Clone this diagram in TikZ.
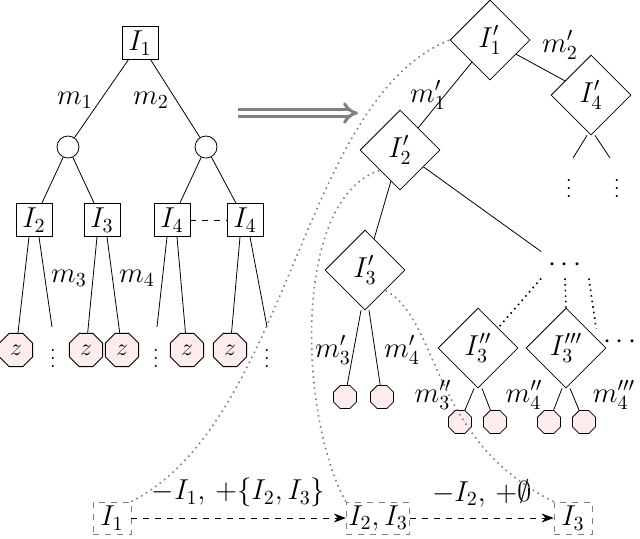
\documentclass[tikz,border=0pt]{standalone}
\usetikzlibrary{shapes.geometric,arrows.meta}
\begin{document}
\begin{tikzpicture}[x=0.5pt,y=-0.5pt,every node/.style={font=\Large},
 box/.style={draw,minimum width=18pt,minimum height=16.5pt,inner sep=1pt},
 dia/.style={draw,diamond,aspect=1,inner sep=0pt,minimum size=40pt},
 ch/.style={draw,circle,minimum size=11pt,inner sep=0pt},
 zn/.style={draw,regular polygon,regular polygon sides=8,fill=red!7,minimum size=18pt,inner sep=0pt,font=\large},
 sn/.style={draw,regular polygon,regular polygon sides=8,fill=red!7,minimum size=12.5pt,inner sep=0pt},
 db/.style={draw=gray,dashed,minimum width=19pt,minimum height=16pt,inner sep=1pt},
 gd/.style={gray,dotted,thick}]
\useasboundingbox (0,0) rectangle (640,538);
% left tree
\node[box] (i1) at (140,43) {$I_1$};
\node[ch] (c1) at (68,147) {};
\node[ch] (c2) at (206,147) {};
\draw (i1) -- (c1);
\draw (i1) -- (c2);
\node at (75,100) {$m_1$}; \node at (151,100) {$m_2$};
\node[box] (i2) at (34,220) {$I_2$};
\node[box] (i3) at (102,220) {$I_3$};
\node[box] (i4) at (172,220) {$I_4$};
\node[box] (i4b) at (245,220) {$I_4$};
\draw (c1)--(i2); \draw (c1)--(i3); \draw (c2)--(i4); \draw (c2)--(i4b);
\draw[dashed] (i4)--(i4b);
\node[zn] (z1) at (16,350) {$z$};
\node[zn] (z2) at (86,350) {$z$};
\node[zn] (z3) at (122,350) {$z$};
\node[zn] (z4) at (187,350) {$z$};
\node[zn] (z5) at (230,350) {$z$};
\coordinate (e1) at (52,327); \coordinate (e2) at (157,327); \coordinate (e3) at (267,327);
\node[font=\normalsize] at (53,352) {$\vdots$}; \node[font=\normalsize] at (156,352) {$\vdots$}; \node[font=\normalsize] at (267,352) {$\vdots$};
\draw (i2.south)+(-5,0) -- (z1); \draw (i2.south)+(5,0) -- (e1);
\draw (i3.south)+(-5,0) -- (z2); \draw (i3.south)+(5,0) -- (z3);
\draw (i4.south)+(-5,0) -- (e2); \draw (i4.south)+(5,0) -- (z4);
\draw (i4b.south)+(-5,0) -- (z5); \draw (i4b.south)+(5,0) -- (e3);
\node at (69,278) {$m_3$}; \node at (137,278) {$m_4$};
% arrow
\coordinate (a1) at (238,113); \coordinate (a2) at (358,113);
\draw[gray,line width=1.5pt,double distance=2pt,-{Implies}] (a1)--(a2);
% right tree
\node[dia] (j1) at (490,40) {$I_1'$};
\node[dia] (j4) at (591,95) {$I_4'$};
\node[dia] (j2) at (400,150) {$I_2'$};
\node[dia] (j3) at (365,270) {$I_3'$};
\node[dia] (j33) at (478,348) {$I_3''$};
\node[dia] (j333) at (566,348) {$I_3'''$};
\draw (j1)--(j2); \draw (j1)--(j4);
\node at (560,45) {$m_2'$}; \node at (428,95) {$m_1'$};
\coordinate (f1) at (573,158); \coordinate (f2) at (610,158);
\draw (j4.south)+(-4,0)--(f1); \draw (j4.south)+(4,0)--(f2);
\node[font=\normalsize] at (569,182) {$\vdots$}; \node[font=\normalsize] at (617,182) {$\vdots$};
\draw (j2)--(j3);
\node (dd) at (565,265) {$\cdots$};
\draw (j2)--(dd.north west);
\draw[dotted,thick] (dd.south west)--(j33.north east);
\draw[dotted,thick] (dd.south)--(j333.north);
\node (dr) at (620,342) {$\cdots$};
\draw[dotted,thick] (dd.south east)--(dr.north west);
\node[sn] (s1) at (345,397) {}; \node[sn] (s2) at (382,397) {};
\draw (j3.south)+(-4,0)--(s1); \draw (j3.south)+(4,0)--(s2);
\node at (333,350) {$m_3'$}; \node at (402,350) {$m_4'$};
\node[sn] (s3) at (460,422) {}; \node[sn] (s4) at (495,422) {};
\node[sn] (s5) at (549,422) {}; \node[sn] (s6) at (584,422) {};
\draw (j33.south)+(-4,0)--(s3); \draw (j33.south)+(4,0)--(s4);
\draw (j333.south)+(-4,0)--(s5); \draw (j333.south)+(4,0)--(s6);
\node at (433,395) {$m_3''$}; \node at (524,395) {$m_4''$}; \node at (614,395) {$m_4'''$};
% bottom
\node[db] (b1) at (112,518) {$I_1$};
\node[db] (b2) at (378,518) {$I_2,I_3$};
\node[db] (b3) at (573,518) {$I_3$};
\draw[dashed,-{Stealth[length=6pt]}] (b1) -- node[above,yshift=2pt]{$-I_1,\,+\{I_2,I_3\}$} (b2);
\draw[dashed,-{Stealth[length=6pt]}] (b2) -- node[above,yshift=2pt]{$-I_2,\,+\emptyset$} (b3);
% dotted guides
\draw[gd] (b1.north east) .. controls (290,420) and (300,100) .. (j1.west);
\draw[gd] (b2.north west) .. controls (300,420) and (290,200) .. (j2.south west);
\draw[gd] (b3.north west) .. controls (430,440) and (440,320) .. (j3.south east);
\end{tikzpicture}
\end{document}
